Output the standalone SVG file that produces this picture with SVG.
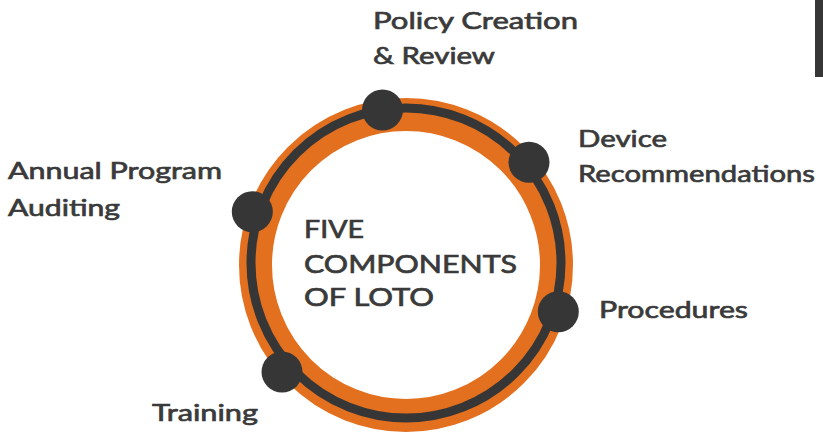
<svg xmlns="http://www.w3.org/2000/svg" width="823" height="433" viewBox="0 0 823 433">
<style>
.lbl{font-family:Lato,"Noto Sans",sans-serif;font-weight:normal;font-size:24px;fill:#3a3a3a;stroke:#3a3a3a;stroke-width:0.7px;}
.ctr{font-family:Lato,"Noto Sans",sans-serif;font-weight:normal;font-size:25px;fill:#3a3a3a;stroke:#3a3a3a;stroke-width:0.7px;}
.node{fill:#363636;}
</style>
<rect x="815" y="0" width="8" height="77" fill="#363636"/>
<g id="ring">
<circle cx="406" cy="265" r="150.5" fill="none" stroke="#E3701F" stroke-width="33"/>
</g>
<g id="connectors">
<circle cx="406" cy="263" r="155" fill="none" stroke="#363636" stroke-width="9"/>
</g>
<g id="center">
<text class="ctr" x="304" y="238" textLength="60" lengthAdjust="spacingAndGlyphs">FIVE</text>
<text class="ctr" x="304" y="273" textLength="213" lengthAdjust="spacingAndGlyphs">COMPONENTS</text>
<text class="ctr" x="304" y="306" textLength="130" lengthAdjust="spacingAndGlyphs">OF LOTO</text>
</g>
<g id="policy">
<circle class="node" cx="382.5" cy="110" r="20.5"/>
<text class="lbl" x="373" y="29" textLength="205" lengthAdjust="spacingAndGlyphs">Policy Creation</text>
<text class="lbl" x="373" y="64" textLength="122" lengthAdjust="spacingAndGlyphs">&amp; Review</text>
</g>
<g id="device">
<circle class="node" cx="529" cy="162.3" r="20.5"/>
<text class="lbl" x="578" y="147" textLength="89" lengthAdjust="spacingAndGlyphs">Device</text>
<text class="lbl" x="578" y="182" textLength="237" lengthAdjust="spacingAndGlyphs">Recommendations</text>
</g>
<g id="procedures">
<circle class="node" cx="558.3" cy="311.7" r="20.5"/>
<text class="lbl" x="599" y="318" textLength="149" lengthAdjust="spacingAndGlyphs">Procedures</text>
</g>
<g id="training">
<circle class="node" cx="282" cy="372" r="20.5"/>
<text class="lbl" x="152" y="421" textLength="106" lengthAdjust="spacingAndGlyphs">Training</text>
</g>
<g id="auditing">
<circle class="node" cx="252.3" cy="211.7" r="20.5"/>
<text class="lbl" x="8" y="179" textLength="214" lengthAdjust="spacingAndGlyphs">Annual Program</text>
<text class="lbl" x="8" y="216" textLength="112" lengthAdjust="spacingAndGlyphs">Auditing</text>
</g>
</svg>
